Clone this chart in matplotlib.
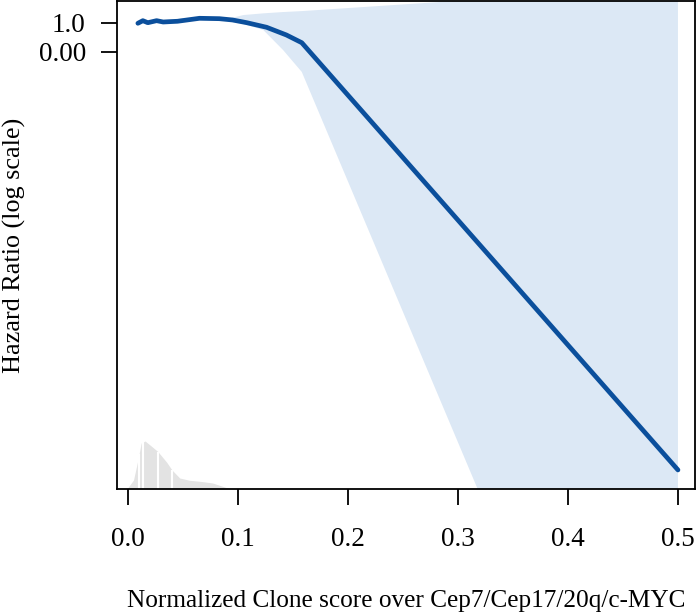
import matplotlib
matplotlib.use("Agg")
import matplotlib.pyplot as plt
import numpy as np

plt.rcParams['font.family'] = ['Liberation Serif', 'DejaVu Serif']

# Hazard ratio curve
hr_x = [0.009, 0.0135, 0.018, 0.026, 0.032, 0.045, 0.065, 0.083, 0.095, 0.108, 0.126, 0.144, 0.158, 0.5]
hr_y = [0.993, 1.057, 1.007, 1.057, 1.024, 1.042, 1.119, 1.109, 1.075, 1.007, 0.902, 0.750, 0.623, 2.21e-5]

# Confidence band
ci_x = [0.009, 0.03, 0.06, 0.09, 0.105, 0.123, 0.141, 0.158, 0.5]
ci_upper = [1.01, 1.07, 1.13, 1.10, 1.21, 1.26, 1.30, 1.33, 2.41]
ci_lower = [0.98, 1.02, 1.10, 1.05, 0.976, 0.845, 0.523, 0.309, 1.58e-10]

# Density of the predictor
dens_x = [-0.001, 0.005, 0.009, 0.012, 0.0155, 0.02, 0.027, 0.035, 0.04, 0.047, 0.056, 0.067, 0.077, 0.087, 0.093]
dens_y = [0, 9, 29, 46, 48, 44, 37.6, 27, 19, 11, 8.7, 7.5, 6, 2.3, 0]
rug_x = [0.010, 0.014, 0.0276, 0.0397]

xticks = [0.0, 0.1, 0.2, 0.3, 0.4, 0.5]
xtick_labels = ["0.0", "0.1", "0.2", "0.3", "0.4", "0.5"]
yticks = [1.0, 0.5]
ytick_labels = ["1.0", "0.00"]

fig = plt.figure(figsize=(7.0, 6.13), dpi=100)
ax = fig.add_axes([117/700, 1 - 489/613, (695-117)/700, (489-1)/613])

# density on a twin axis
ax2 = ax.twinx()
ax2.fill_between(dens_x, 0, dens_y, color='#e3e3e3', linewidth=0, zorder=1)
rug_h = np.interp(rug_x, dens_x, dens_y)
ax2.vlines(rug_x, 0, rug_h, colors='white', linewidth=1.5, zorder=2)
ax2.set_ylim(0, 488)
ax2.set_yticks([])
for s in ax2.spines.values():
    s.set_visible(False)
ax.set_zorder(ax2.get_zorder() + 1)
ax.patch.set_visible(False)

ax.fill_between(ci_x, ci_lower, ci_upper, color='#dce8f5', linewidth=0, zorder=1)
ax.plot(hr_x, hr_y, color='#0b4f9c', linewidth=3.4, solid_capstyle='round', zorder=3)

ax.set_yscale('log')
ax.set_xlim(-0.01, 0.5155)
ax.set_ylim(10**(-4.854), 10**(0.229))
ax.set_yticks(yticks)
ax.set_yticklabels(ytick_labels)
ax.yaxis.set_minor_locator(matplotlib.ticker.NullLocator())
ax.set_xticks(xticks)
ax.set_xticklabels(xtick_labels)

for s in ax.spines.values():
    s.set_linewidth(1.3)
    s.set_color('black')
ax.tick_params(axis='both', direction='out', length=11.5, width=1.3, labelsize=19.5)
ax.tick_params(axis='x', pad=16)
ax.tick_params(axis='y', pad=11)

ax.set_xlabel("Normalized Clone score over Cep7/Cep17/20q/c-MYC", fontsize=18.2, labelpad=27)
ax.set_ylabel("Hazard Ratio (log scale)", fontsize=18.8)
ax.yaxis.set_label_coords(-0.158, 0.5)

fig.savefig("out.png", dpi=100)
